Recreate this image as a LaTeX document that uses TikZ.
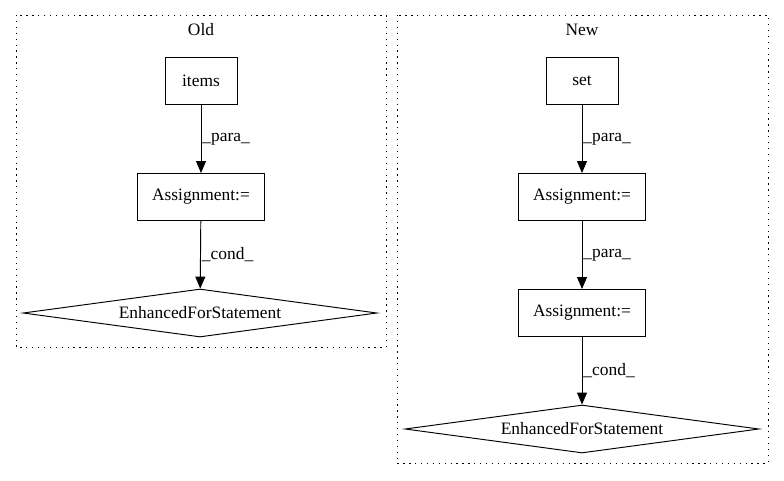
\documentclass[tikz,border=0pt]{standalone}
\usepackage{fontspec}
\setmainfont{Liberation Serif}
\usetikzlibrary{shapes.geometric,arrows.meta}
\begin{document}
\begin{tikzpicture}[x=1pt,y=-1pt,
  every node/.style={font=\fontsize{17.4}{20}\selectfont},
  cluster/.style={draw,line width=1pt,dash pattern=on 1.3pt off 4.6pt},
  rbox/.style={draw,line width=0.95pt,rectangle,inner sep=0pt},
  dia/.style={draw,line width=0.95pt,diamond,aspect=7.2,inner sep=0pt},
  arr/.style={-{Triangle[length=12pt,width=10pt]},line width=0.95pt},
  elab/.style={anchor=west,inner sep=1pt}]
\useasboundingbox (0,0) rectangle (784,480);
% clusters
\draw[cluster] (16,15) rectangle (386,347);
\draw[cluster] (397,15) rectangle (768,463);
\node (lold) at (201,30) {Old};
\node (lnew) at (582,30) {New};
% Old
\node[rbox,minimum width=72pt,minimum height=47pt] (items) at (201,81) {items};
\node[rbox,minimum width=127pt,minimum height=47pt] (oa) at (201,197) {Assignment:=};
\node[dia,minimum width=354pt,minimum height=48pt] (ofor) at (200,313) {EnhancedForStatement};
\draw[arr] (items) -- node[elab,pos=0.5] {\_para\_} (oa);
\draw[arr] (oa) -- node[elab,pos=0.5] {\_cond\_} (ofor);
% New
\node[rbox,minimum width=72pt,minimum height=47pt] (set) at (582,81) {set};
\node[rbox,minimum width=127pt,minimum height=47pt] (na1) at (582,197) {Assignment:=};
\node[rbox,minimum width=127pt,minimum height=47pt] (na2) at (582,313) {Assignment:=};
\node[dia,minimum width=354pt,minimum height=48pt] (nfor) at (582,429) {EnhancedForStatement};
\draw[arr] (set) -- node[elab,pos=0.5] {\_para\_} (na1);
\draw[arr] (na1) -- node[elab,pos=0.5] {\_para\_} (na2);
\draw[arr] (na2) -- node[elab,pos=0.5] {\_cond\_} (nfor);
\end{tikzpicture}
\end{document}
